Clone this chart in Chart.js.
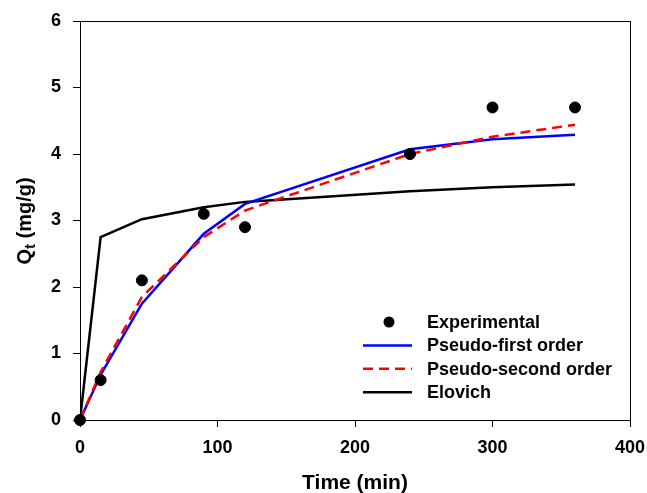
<!DOCTYPE html>
<html>
<head>
<meta charset="utf-8">
<script src="https://cdn.jsdelivr.net/npm/chart.js@4.4.1/dist/chart.umd.min.js"></script>
<style>
    html, body { margin: 0; padding: 0; background: #fff; }
    #wrap { width: 647px; height: 493px; }
</style>
</head>
<body>
<div id="wrap"><canvas id="kineticChart"></canvas></div>
<script>
const timeMin = [0, 15, 45, 90, 120, 240, 300, 360];
const experimental = [0, 0.6, 2.1, 3.1, 2.9, 4.0, 4.7, 4.7];
const pseudoFirst = [0, 0.68, 1.75, 2.8, 3.25, 4.07, 4.22, 4.29];
const pseudoSecond = [0, 0.72, 1.85, 2.75, 3.15, 4.0, 4.26, 4.44];
const elovich = [0, 2.75, 3.02, 3.2, 3.28, 3.44, 3.5, 3.54];
const xTicks = [0, 100, 200, 300, 400];
const yTicks = [0, 1, 2, 3, 4, 5, 6];

const FONT = "'Liberation Sans', Arial, sans-serif";

function toPoints(values) {
    return timeMin.map((t, i) => ({ x: t, y: values[i] }));
}

const legendItems = [
    { label: "Experimental", kind: "dot", color: "#000" },
    { label: "Pseudo-first order", kind: "line", color: "#0000ff", dash: [] },
    { label: "Pseudo-second order", kind: "line", color: "#ff0000", dash: [10, 6] },
    { label: "Elovich", kind: "line", color: "#000", dash: [] }
];

const framePlugin = {
    id: "frame",
    afterDraw(chart) {
        const ctx = chart.ctx;
        const a = chart.chartArea;
        ctx.save();
        ctx.strokeStyle = "#000";
        ctx.lineWidth = 1;
        ctx.strokeRect(a.left + 0.5, a.top + 0.5, a.right - a.left, a.bottom - a.top);

        // y axis title with subscript t
        ctx.fillStyle = "#000";
        ctx.translate(25, 221);
        ctx.rotate(-Math.PI / 2);
        ctx.textBaseline = "middle";
        ctx.textAlign = "left";
        ctx.font = "bold 15px " + FONT;
        const wt = ctx.measureText("t").width;
        ctx.font = "bold 20px " + FONT;
        const wq = ctx.measureText("Q").width;
        const wr = ctx.measureText(" (mg/g)").width;
        const x0 = -(wq + wt + wr) / 2;
        ctx.fillText("Q", x0, 0);
        ctx.fillText(" (mg/g)", x0 + wq + wt, 0);
        ctx.font = "bold 15px " + FONT;
        ctx.fillText("t", x0 + wq, 6);
        ctx.restore();

        // legend inside the plot
        ctx.save();
        ctx.font = "bold 18px " + FONT;
        ctx.textBaseline = "middle";
        ctx.textAlign = "left";
        legendItems.forEach((item, i) => {
            const y = 322 + i * 23.4;
            if (item.kind === "dot") {
                ctx.fillStyle = item.color;
                ctx.beginPath();
                ctx.arc(389, y, 5.5, 0, Math.PI * 2);
                ctx.fill();
            } else {
                ctx.strokeStyle = item.color;
                ctx.lineWidth = 2.5;
                ctx.setLineDash(item.dash);
                ctx.beginPath();
                ctx.moveTo(363, y);
                ctx.lineTo(412, y);
                ctx.stroke();
                ctx.setLineDash([]);
            }
            ctx.fillStyle = "#000";
            ctx.fillText(item.label, 427, y + 1);
        });
        ctx.restore();
    }
};

new Chart(document.getElementById("kineticChart"), {
    type: "scatter",
    data: {
        datasets: [
            {
                label: "Elovich",
                data: toPoints(elovich),
                showLine: true,
                borderColor: "#000",
                borderWidth: 2.5,
                pointRadius: 0,
                order: 4
            },
            {
                label: "Pseudo-first order",
                data: toPoints(pseudoFirst),
                showLine: true,
                borderColor: "#0000ff",
                borderWidth: 2.5,
                pointRadius: 0,
                order: 3
            },
            {
                label: "Pseudo-second order",
                data: toPoints(pseudoSecond),
                showLine: true,
                borderColor: "#ff0000",
                borderDash: [10, 6],
                borderWidth: 2.5,
                pointRadius: 0,
                order: 2
            },
            {
                label: "Experimental",
                data: toPoints(experimental),
                showLine: false,
                backgroundColor: "#000",
                borderColor: "#000",
                pointRadius: 5.5,
                clip: false,
                order: 1
            }
        ]
    },
    options: {
        responsive: true,
        maintainAspectRatio: false,
        animation: false,
        layout: { padding: { left: 0, right: 17, top: 21, bottom: 0 } },
        plugins: {
            legend: { display: false },
            tooltip: { enabled: false }
        },
        scales: {
            x: {
                type: "linear",
                min: 0,
                max: 400,
                afterBuildTicks: axis => { axis.ticks = xTicks.map(v => ({ value: v })); },
                afterFit: axis => {
                    axis.height = 73;
                    axis.paddingLeft = 0;
                    axis.paddingRight = 0;
                },
                grid: { drawOnChartArea: false, tickLength: 7, color: "#000", tickColor: "#000" },
                border: { color: "#000", width: 1 },
                ticks: { color: "#000", font: { family: FONT, size: 18, weight: "bold" }, padding: 10, maxRotation: 0 },
                title: {
                    display: true,
                    text: "Time (min)",
                    color: "#000",
                    font: { family: FONT, size: 21, weight: "bold" },
                    padding: { top: 14, bottom: -3 }
                }
            },
            y: {
                type: "linear",
                min: 0,
                max: 6,
                afterBuildTicks: axis => { axis.ticks = yTicks.map(v => ({ value: v })); },
                afterFit: axis => {
                    axis.width = 80;
                    axis.paddingTop = 0;
                    axis.paddingBottom = 0;
                },
                grid: { drawOnChartArea: false, tickLength: 7, color: "#000", tickColor: "#000" },
                border: { color: "#000", width: 1 },
                ticks: { color: "#000", font: { family: FONT, size: 18, weight: "bold" }, padding: 12 }
            }
        }
    },
    plugins: [framePlugin]
});
</script>
</body>
</html>
